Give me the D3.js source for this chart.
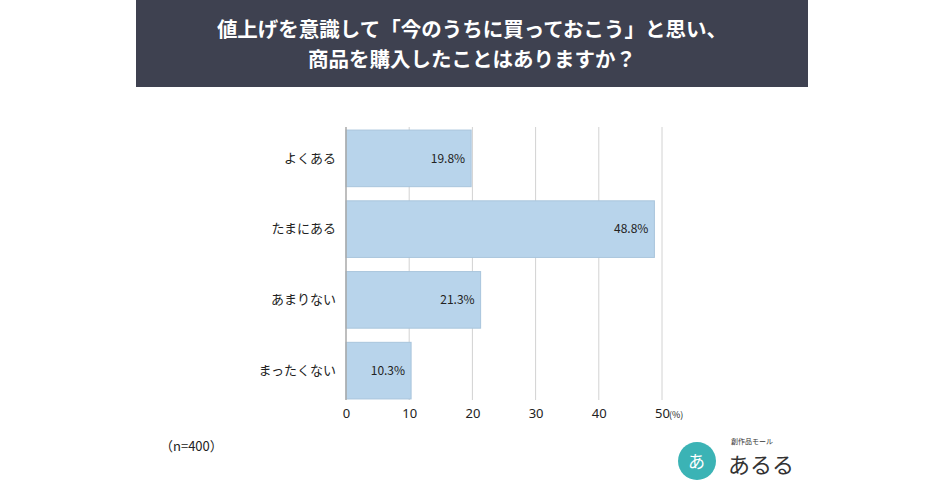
<!DOCTYPE html>
<html>
<head>
<meta charset="utf-8">
<script src="https://cdn.jsdelivr.net/npm/d3@7"></script>
<style>
  html, body { margin: 0; padding: 0; background: #fff; }
  svg { display: block; font-family: "Noto Sans CJK JP", "Noto Sans", sans-serif; }
</style>
</head>
<body>
<div id="chart"></div>
<script>
const titleLines = ["値上げを意識して「今のうちに買っておこう」と思い、", "商品を購入したことはありますか？"];
const categories = ["よくある", "たまにある", "あまりない", "まったくない"];
const values = [19.8, 48.8, 21.3, 10.3];
const ticks = [0, 10, 20, 30, 40, 50];
const note = "（n=400）";

const width = 940, height = 492;

const svg = d3.select("#chart").append("svg")
    .attr("width", width)
    .attr("height", height);

// title band
svg.append("rect")
    .attr("x", 136).attr("y", 0)
    .attr("width", 672).attr("height", 87)
    .attr("fill", "#3e4150");

svg.append("g")
    .selectAll("text")
    .data(titleLines)
    .join("text")
    .attr("x", 472)
    .attr("y", (d, i) => 37 + i * 30)
    .attr("text-anchor", "middle")
    .attr("fill", "#fff")
    .attr("font-size", 20.5)
    .attr("font-weight", "bold")
    .text(d => d);

const x = d3.scaleLinear()
    .domain([0, 50])
    .range([346, 662]);

const y = d3.scaleBand()
    .domain(categories)
    .range([123, 406])
    .paddingInner(0.2)
    .paddingOuter(0.1);

// grid lines
svg.append("g")
    .selectAll("line")
    .data(ticks.slice(1))
    .join("line")
    .attr("x1", d => x(d)).attr("x2", d => x(d))
    .attr("y1", 127).attr("y2", 400)
    .attr("stroke", "#d2d2d2")
    .attr("stroke-width", 1);

// bars
svg.append("g")
    .selectAll("rect")
    .data(values)
    .join("rect")
    .attr("x", x(0))
    .attr("y", (d, i) => y(categories[i]))
    .attr("width", d => x(d) - x(0))
    .attr("height", y.bandwidth())
    .attr("fill", "#b8d4eb")
    .attr("stroke", "#a9c5dc")
    .attr("stroke-width", 1);

// baseline
svg.append("line")
    .attr("x1", x(0)).attr("x2", x(0))
    .attr("y1", 127).attr("y2", 400)
    .attr("stroke", "#a8a8a8")
    .attr("stroke-width", 1.5);

// value labels
svg.append("g")
    .selectAll("text")
    .data(values)
    .join("text")
    .attr("x", d => x(d) - 6)
    .attr("y", (d, i) => y(categories[i]) + y.bandwidth() / 2)
    .attr("dy", "0.35em")
    .attr("text-anchor", "end")
    .attr("font-size", 12)
    .attr("fill", "#222")
    .text(d => d.toFixed(1) + "%");

// category axis
const yAxis = d3.axisLeft(y).tickSize(0).tickPadding(10);
const gy = svg.append("g")
    .attr("transform", `translate(${x(0)},0)`)
    .call(yAxis);
gy.select(".domain").remove();
gy.selectAll("text")
    .attr("font-size", 13)
    .attr("fill", "#222")
    .attr("font-family", "Noto Sans CJK JP, sans-serif");

// value axis
const xAxis = d3.axisBottom(x).tickValues(ticks).tickSize(0).tickPadding(8);
const gx = svg.append("g")
    .attr("transform", "translate(0,401)")
    .call(xAxis);
gx.select(".domain").remove();
gx.selectAll("text")
    .attr("font-size", 13)
    .attr("fill", "#222")
    .attr("font-family", "Noto Sans, sans-serif");

svg.append("text")
    .attr("x", x(50) + 7)
    .attr("y", 418)
    .attr("font-size", 9)
    .attr("fill", "#222")
    .text("(%)");

svg.append("text")
    .attr("x", 160)
    .attr("y", 451)
    .attr("font-size", 13)
    .attr("fill", "#222")
    .text(note);

// logo
const logo = svg.append("g");
logo.append("circle")
    .attr("cx", 697).attr("cy", 461).attr("r", 19)
    .attr("fill", "#3bb3b5");
logo.append("text")
    .attr("x", 688).attr("y", 468)
    .attr("font-size", 17)
    .attr("fill", "#fff")
    .text("あ");
logo.append("text")
    .attr("x", 728).attr("y", 473)
    .attr("font-size", 22)
    .attr("fill", "#333")
    .text("あるる");
logo.append("text")
    .attr("x", 731).attr("y", 444)
    .attr("font-size", 7)
    .attr("fill", "#333")
    .text("創作品モール");
</script>
</body>
</html>
